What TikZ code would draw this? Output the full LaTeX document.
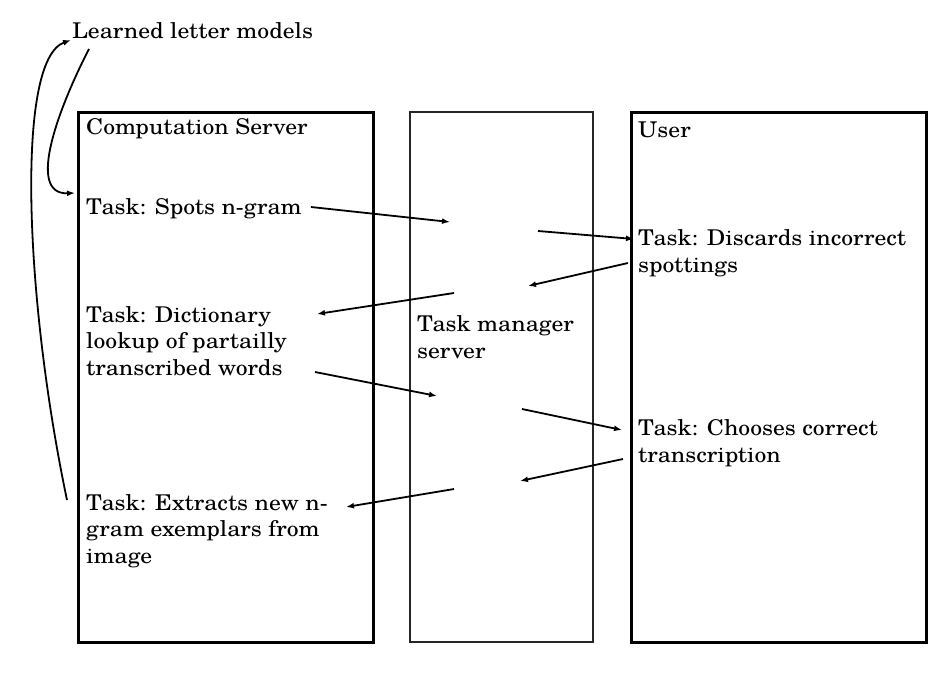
\documentclass[tikz,border=0pt]{standalone}
\usepackage{fontspec}
\setmainfont{texgyreschola-regular.otf}[FakeStretch=1.09]
\usetikzlibrary{arrows.meta}
\begin{document}
\begin{tikzpicture}[x=1pt,y=-1pt,
  thickbox/.style={draw=black,line width=3pt},
  thinbox/.style={draw=black!85,line width=1.5pt},
  lbl/.style={anchor=base west,inner sep=0pt,font=\fontsize{21.7}{26.5}\selectfont,align=left},
  flow/.style={line width=1.8pt,-{Latex[length=8pt,width=6pt]}}]
\useasboundingbox (0,0) rectangle (950,691);
% boxes
\draw[thickbox] (78,112) rectangle (373,642);
\draw[thinbox] (410,112) rectangle (593,642);
\draw[thickbox] (631,112) rectangle (926,642);
% labels (anchor at baseline of the last line)
\node[lbl] (llm) at (72,38) {Learned letter models};
\node[lbl] (cs) at (86,134) {Computation Server};
\node[lbl] (t1) at (86,214) {Task: Spots n-gram};
\node[lbl] (t2) at (86,375) {Task: Dictionary\\lookup of partailly\\transcribed words};
\node[lbl] (t3) at (86,563) {Task: Extracts new n-\\gram exemplars from\\image};
\node[lbl] (tm) at (417,358) {Task manager\\server};
\node[lbl] (us) at (638,137) {User};
\node[lbl] (u1) at (638,272) {Task: Discards incorrect\\spottings};
\node[lbl] (u2) at (638,462) {Task: Chooses correct\\transcription};
% connector end points
\coordinate (a1s) at (311,207); \coordinate (a1e) at (450,222);
\coordinate (a2s) at (538,231); \coordinate (a2e) at (634,239);
\coordinate (a3s) at (628,263); \coordinate (a3e) at (528,286);
\coordinate (a4s) at (454,293); \coordinate (a4e) at (317,314);
\coordinate (a5s) at (315,372); \coordinate (a5e) at (437,396);
\coordinate (a6s) at (522,409); \coordinate (a6e) at (622,430);
\coordinate (a7s) at (623,459); \coordinate (a7e) at (520,481);
\coordinate (a8s) at (454,489); \coordinate (a8e) at (346,507);
\coordinate (c1s) at (89,49); \coordinate (c1e) at (75,193);
\coordinate (c2s) at (67,500); \coordinate (c2e) at (71,40);
\draw[flow] (a1s) -- (a1e);
\draw[flow] (a2s) -- (a2e);
\draw[flow] (a3s) -- (a3e);
\draw[flow] (a4s) -- (a4e);
\draw[flow] (a5s) -- (a5e);
\draw[flow] (a6s) -- (a6e);
\draw[flow] (a7s) -- (a7e);
\draw[flow] (a8s) -- (a8e);
\draw[flow] (c1s) .. controls (60,105) and (25,195) .. (c1e);
\draw[flow] (c2s) .. controls (25,300) and (15,60) .. (c2e);
\end{tikzpicture}
\end{document}
